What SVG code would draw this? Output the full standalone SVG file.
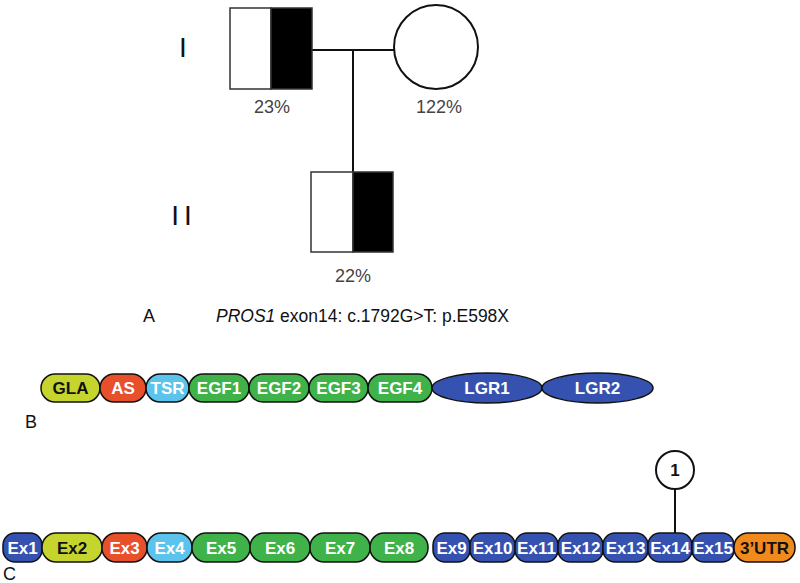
<svg xmlns="http://www.w3.org/2000/svg" width="800" height="583" viewBox="0 0 800 583">
<style>
.ln{stroke:#111;stroke-width:2;fill:none}
.ped{stroke:#333;stroke-width:1.5}
.pct{font-family:"Liberation Sans",Arial,sans-serif;font-size:18px;fill:#444;text-anchor:middle}
.gen{font-family:"Liberation Sans",Arial,sans-serif;font-size:28px;fill:#111;text-anchor:middle}
.lab{font-family:"Liberation Sans",Arial,sans-serif;font-size:18px;fill:#111}
.dom{stroke:#111;stroke-width:1.5}
.w{font-family:"Liberation Sans",Arial,sans-serif;font-size:17px;fill:#fff;text-anchor:middle;font-weight:bold}
.k{font-family:"Liberation Sans",Arial,sans-serif;font-size:17px;fill:#111;text-anchor:middle;font-weight:bold}
.yl{fill:#c5d52e}.rd{fill:#e8502b}.lb{fill:#5cc3ec}.gr{fill:#3fb24a}.bl{fill:#3552b0}.or{fill:#f08a1d}
</style>
<g id="connectors">
<line class="ln" x1="312" y1="50" x2="394" y2="50"/>
<line class="ln" x1="353" y1="50" x2="353" y2="172"/>
<line class="ln" x1="675" y1="489" x2="675" y2="533"/>
</g>
<g id="gen-I"><text class="gen" x="183" y="57">I</text></g>
<g id="gen-II"><text class="gen" x="184" y="225" letter-spacing="5">II</text></g>
<g id="I-1">
<rect x="230" y="8" width="41" height="81" fill="#fff" class="ped"/>
<rect x="271" y="8" width="41" height="81" fill="#000" class="ped"/>
<text class="pct" x="272" y="113">23%</text>
</g>
<g id="I-2">
<circle cx="436" cy="47" r="42" fill="#fff" class="ln"/>
<text class="pct" x="439" y="113">122%</text>
</g>
<g id="II-1">
<rect x="311" y="172" width="42" height="80" fill="#fff" class="ped"/>
<rect x="353" y="172" width="40" height="80" fill="#000" class="ped"/>
<text class="pct" x="353" y="282">22%</text>
</g>
<g id="caption-A">
<text class="lab" x="143" y="322">A</text>
<text class="lab" x="216" y="322" textLength="293" lengthAdjust="spacingAndGlyphs"><tspan font-style="italic">PROS1</tspan> exon14: c.1792G&gt;T: p.E598X</text>
</g>
<g id="protein">
<g id="GLA"><rect class="dom yl" x="41" y="374" width="59" height="28" rx="14"/><text class="k" x="70.5" y="394">GLA</text></g>
<g id="AS"><rect class="dom rd" x="100" y="374" width="46" height="28" rx="14"/><text class="w" x="123" y="394">AS</text></g>
<g id="TSR"><rect class="dom lb" x="146" y="374" width="43" height="28" rx="14"/><text class="w" x="167.5" y="394">TSR</text></g>
<g id="EGF1"><rect class="dom gr" x="189" y="374" width="60" height="28" rx="14"/><text class="w" x="219" y="394">EGF1</text></g>
<g id="EGF2"><rect class="dom gr" x="249" y="374" width="60" height="28" rx="14"/><text class="w" x="279" y="394">EGF2</text></g>
<g id="EGF3"><rect class="dom gr" x="309" y="374" width="59" height="28" rx="14"/><text class="w" x="338.5" y="394">EGF3</text></g>
<g id="EGF4"><rect class="dom gr" x="368" y="374" width="64" height="28" rx="14"/><text class="w" x="400" y="394">EGF4</text></g>
<g id="LGR1"><ellipse class="dom bl" cx="487" cy="388" rx="55" ry="15"/><text class="w" x="487" y="394">LGR1</text></g>
<g id="LGR2"><ellipse class="dom bl" cx="597.5" cy="388" rx="55.5" ry="15"/><text class="w" x="597.5" y="394">LGR2</text></g>
<text class="lab" x="25" y="428">B</text>
</g>
<g id="gene">
<g id="Ex1"><rect class="dom bl" x="3" y="533" width="39" height="29" rx="12"/><text class="w" x="22.5" y="554">Ex1</text></g>
<g id="Ex2"><rect class="dom yl" x="42" y="533" width="60" height="29" rx="14"/><text class="k" x="72" y="554">Ex2</text></g>
<g id="Ex3"><rect class="dom rd" x="102" y="533" width="45" height="29" rx="14"/><text class="w" x="124.5" y="554">Ex3</text></g>
<g id="Ex4"><rect class="dom lb" x="147" y="533" width="45" height="29" rx="14"/><text class="w" x="169.5" y="554">Ex4</text></g>
<g id="Ex5"><rect class="dom gr" x="192" y="533" width="58" height="29" rx="14"/><text class="w" x="221" y="554">Ex5</text></g>
<g id="Ex6"><rect class="dom gr" x="250" y="533" width="60" height="29" rx="14"/><text class="w" x="280" y="554">Ex6</text></g>
<g id="Ex7"><rect class="dom gr" x="310" y="533" width="60" height="29" rx="14"/><text class="w" x="340" y="554">Ex7</text></g>
<g id="Ex8"><rect class="dom gr" x="370" y="533" width="58" height="29" rx="14"/><text class="w" x="399" y="554">Ex8</text></g>
<g id="Ex9"><rect class="dom bl" x="433" y="533" width="37" height="29" rx="12"/><text class="w" x="451.5" y="554">Ex9</text></g>
<g id="Ex10"><rect class="dom bl" x="470" y="533" width="45" height="29" rx="12"/><text class="w" x="492.5" y="554">Ex10</text></g>
<g id="Ex11"><rect class="dom bl" x="515" y="533" width="43" height="29" rx="12"/><text class="w" x="536.5" y="554">Ex11</text></g>
<g id="Ex12"><rect class="dom bl" x="558" y="533" width="45" height="29" rx="12"/><text class="w" x="580.5" y="554">Ex12</text></g>
<g id="Ex13"><rect class="dom bl" x="603" y="533" width="45" height="29" rx="12"/><text class="w" x="625.5" y="554">Ex13</text></g>
<g id="Ex14"><rect class="dom bl" x="648" y="533" width="44" height="29" rx="12"/><text class="w" x="670" y="554">Ex14</text></g>
<g id="Ex15"><rect class="dom bl" x="692" y="533" width="42" height="29" rx="12"/><text class="w" x="713" y="554">Ex15</text></g>
<g id="UTR3"><rect class="dom or" x="734" y="533" width="61" height="29" rx="14"/><text class="k" x="764.5" y="554">3’UTR</text></g>
<g id="mut1"><circle cx="675" cy="470" r="19" fill="#fff" class="ln"/><text class="k" x="675" y="476" font-size="15">1</text></g>
<text class="lab" x="3" y="580">C</text>
</g>
</svg>
